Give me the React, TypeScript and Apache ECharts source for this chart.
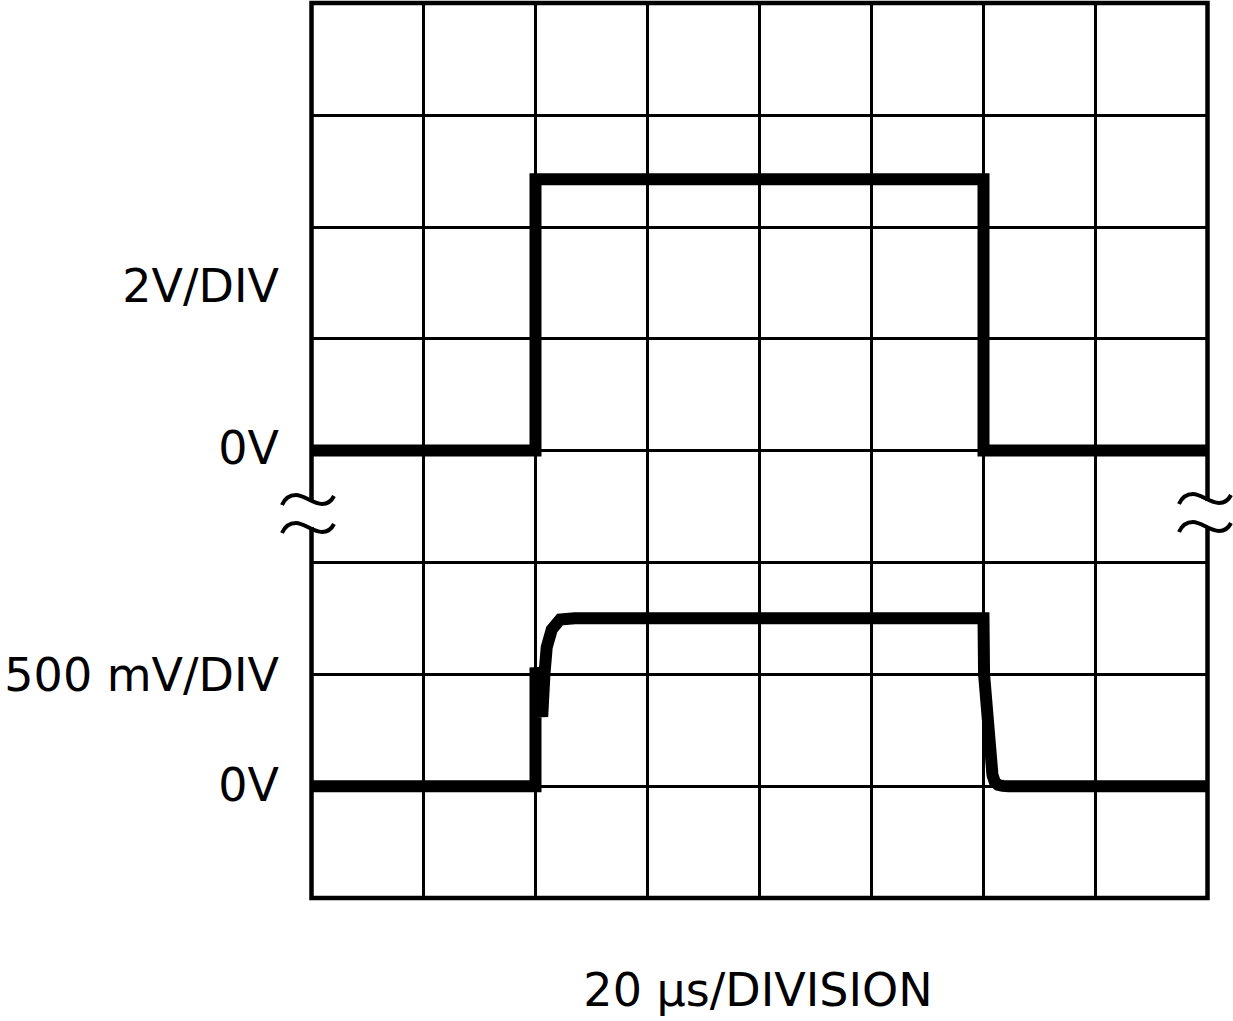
import React, { useEffect, useRef } from "react";
import * as echarts from "echarts";

// Time axis: 20 µs per division, 8 divisions
const timeTicks = [0, 20, 40, 60, 80, 100, 120, 140, 160];
// Vertical divisions (whole screen)
const divisionTicks = [0, 1, 2, 3, 4, 5, 6, 7, 8];

// Upper trace (2 V/DIV, 0 V at division 4)
const topZeroDiv = 4;
const topVoltsPerDiv = 2;
const topTraceTime = [0, 40, 40, 120, 120, 160];
const topTraceVolts = [0, 0, 4.85, 4.85, 0, 0];

// Lower trace (500 mV/DIV, 0 V at division 1)
const bottomZeroDiv = 1;
const bottomVoltsPerDiv = 0.5;
const bottomTraceTime = [0, 40, 40, 41.2, 41.6, 42, 42.9, 44.4, 47, 120, 120.1, 121.6, 122.0, 122.6, 123.4, 124.5, 160];
const bottomTraceVolts = [0, 0, 0.53, 0.31, 0.5, 0.62, 0.7, 0.745, 0.75, 0.75, 0.5, 0.05, 0.02, 0.006, 0.001, 0, 0];

// Labels
const upperScaleLabel = "2V/DIV";
const lowerScaleLabel = "500 mV/DIV";
const zeroLabel = "0V";
const timeLabel = "20 µs/DIVISION";

const FONT = '"DejaVu Sans", sans-serif';

const tildePath = "M0,10 C3,3 8,0 14,0 C22,0 31,9 40,9 C46,9 50,5 52,1";
let registered = false;

export default function App() {
  const ref = useRef<HTMLDivElement>(null);
  useEffect(() => {
    if (!registered) {
      echarts.graphic.registerShape("tilde", echarts.graphic.extendPath(tildePath, {}));
      registered = true;
    }
    const chart = echarts.init(ref.current!, null, { renderer: "svg" });
    const topData = topTraceTime.map((t, i) => [t, topZeroDiv + topTraceVolts[i] / topVoltsPerDiv]);
    const bottomData = bottomTraceTime.map((t, i) => [t, bottomZeroDiv + bottomTraceVolts[i] / bottomVoltsPerDiv]);

    const txt = (text: string, x: number, y: number, align: string) => ({
      type: "text",
      x,
      y,
      z: 100,
      style: {
        text,
        fill: "#000",
        fontSize: 46,
        fontFamily: FONT,
        textAlign: align,
        align,
        textVerticalAlign: "middle",
        verticalAlign: "middle",
      },
    });
    const tilde = (x: number, y: number) => ({
      type: "tilde",
      x,
      y,
      z: 101,
      style: { fill: "none", stroke: "#000", lineWidth: 4 },
    });
    const gap = (x: number) => ({
      type: "rect",
      z: 99,
      shape: { x, y: 501, width: 10, height: 26 },
      style: { fill: "#fff" },
    });

    chart.setOption({
      animation: false,
      backgroundColor: "#fff",
      grid: {
        left: 311.5,
        top: 3,
        width: 896,
        height: 895,
        show: true,
        borderColor: "#000",
        borderWidth: 4.5,
        backgroundColor: "transparent",
      },
      xAxis: {
        type: "value",
        min: timeTicks[0],
        max: timeTicks[timeTicks.length - 1],
        interval: 20,
        axisLine: { show: false },
        axisTick: { show: false },
        axisLabel: { show: false },
        splitLine: { show: true, lineStyle: { color: "#000", width: 3 } },
      },
      yAxis: {
        type: "value",
        min: divisionTicks[0],
        max: divisionTicks[divisionTicks.length - 1],
        interval: 1,
        axisLine: { show: false },
        axisTick: { show: false },
        axisLabel: { show: false },
        splitLine: { show: true, lineStyle: { color: "#000", width: 3 } },
      },
      series: [
        {
          type: "line",
          data: topData,
          symbol: "none",
          clip: true,
          lineStyle: { color: "#000", width: 12, join: "miter", cap: "butt" },
          z: 5,
        },
        {
          type: "line",
          data: bottomData,
          symbol: "none",
          clip: true,
          lineStyle: { color: "#000", width: 12, join: "miter", cap: "butt" },
          z: 5,
        },
      ],
      graphic: [
        txt(upperScaleLabel, 279, 286, "right"),
        txt(zeroLabel, 279, 448, "right"),
        txt(lowerScaleLabel, 279, 675, "right"),
        txt(zeroLabel, 279, 785, "right"),
        txt(timeLabel, 758, 990, "center"),
        gap(306.5),
        gap(1202.5),
        tilde(282, 495),
        tilde(282, 523),
        tilde(1179, 494),
        tilde(1179, 522),
      ],
    });
    return () => chart.dispose();
  }, []);
  return (
    <div
      ref={ref}
      style={{ position: "fixed", left: 0, top: 0, width: 1233, height: 1021, background: "#fff" }}
    />
  );
}
